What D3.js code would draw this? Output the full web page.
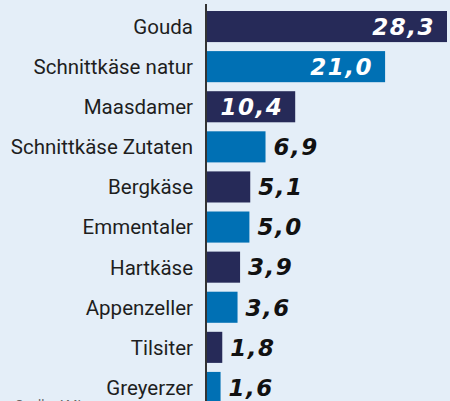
<!DOCTYPE html>
<html>
<head>
<meta charset="utf-8">
<script src="https://cdn.jsdelivr.net/npm/d3@7"></script>
<style>
  body { margin: 0; background: #e4eef8; overflow: hidden; }
  svg { display: block; }
</style>
</head>
<body>
<div id="chart"></div>
<script>
// size of the picture
const svgWidth = 450;
const svgHeight = 401;
const axisX = 206;

// cheese names and shares (percent)
const cheeses = ["Gouda", "Schnittkäse natur", "Maasdamer", "Schnittkäse Zutaten", "Bergkäse",
                 "Emmentaler", "Hartkäse", "Appenzeller", "Tilsiter", "Greyerzer"];
const shares = [28.3, 21.0, 10.4, 6.9, 5.1, 5.0, 3.9, 3.6, 1.8, 1.6];

const navy = "#262a58";
const blue = "#0070b4";

const svg = d3.select("#chart")
    .append("svg")
    .attr("width", svgWidth)
    .attr("height", svgHeight);

svg.append("rect")
    .attr("width", svgWidth)
    .attr("height", svgHeight)
    .attr("fill", "#e4eef8");

const y = d3.scaleBand()
    .domain(cheeses)
    .range([7, 407])
    .paddingInner(0.225)
    .paddingOuter(0.1);

const x = d3.scaleLinear()
    .domain([0, 28.3])
    .range([axisX + 1, 447]);

const rows = cheeses.map((c, i) => ({ name: c, value: shares[i], i: i }));

// bars, alternating colours
svg.selectAll(".bar")
    .data(rows)
    .enter()
    .append("rect")
    .attr("class", "bar")
    .attr("x", x(0))
    .attr("y", d => y(d.name))
    .attr("width", d => x(d.value) - x(0))
    .attr("height", y.bandwidth())
    .attr("fill", d => d.i % 2 == 0 ? navy : blue);

// category labels
svg.selectAll(".label")
    .data(rows)
    .enter()
    .append("text")
    .attr("class", "label")
    .attr("x", 193)
    .attr("y", d => y(d.name) + y.bandwidth() / 2)
    .attr("dy", "0.36em")
    .attr("text-anchor", "end")
    .attr("font-family", "Roboto, 'Liberation Sans', sans-serif")
    .attr("font-size", "20.5px")
    .attr("fill", "#1e1e1e")
    .text(d => d.name);

// value labels, inside the long bars, outside the short ones
const fmt = v => v.toFixed(1).replace(".", ",");
svg.selectAll(".value")
    .data(rows)
    .enter()
    .append("text")
    .attr("class", "value")
    .attr("x", d => d.value > 10 ? x(d.value) - 12 : x(d.value) + 8)
    .attr("y", d => y(d.name) + y.bandwidth() / 2)
    .attr("dy", "0.36em")
    .attr("text-anchor", d => d.value > 10 ? "end" : "start")
    .attr("font-family", "'DejaVu Sans', sans-serif")
    .attr("font-weight", "bold")
    .attr("font-style", "italic")
    .attr("font-size", "23px")
    .attr("letter-spacing", "1.5px")
    .attr("fill", d => d.value > 10 ? "#ffffff" : "#111111")
    .text(d => fmt(d.value));

// vertical axis line
svg.append("line")
    .attr("x1", axisX)
    .attr("x2", axisX)
    .attr("y1", 4)
    .attr("y2", svgHeight)
    .attr("stroke", "#333")
    .attr("stroke-width", 2);

// source note, cut off at the bottom
svg.append("text")
    .attr("x", 15)
    .attr("y", 409)
    .attr("font-family", "Roboto, sans-serif")
    .attr("font-size", "13px")
    .attr("fill", "#666")
    .text("Quelle: AMI");
</script>
</body>
</html>
